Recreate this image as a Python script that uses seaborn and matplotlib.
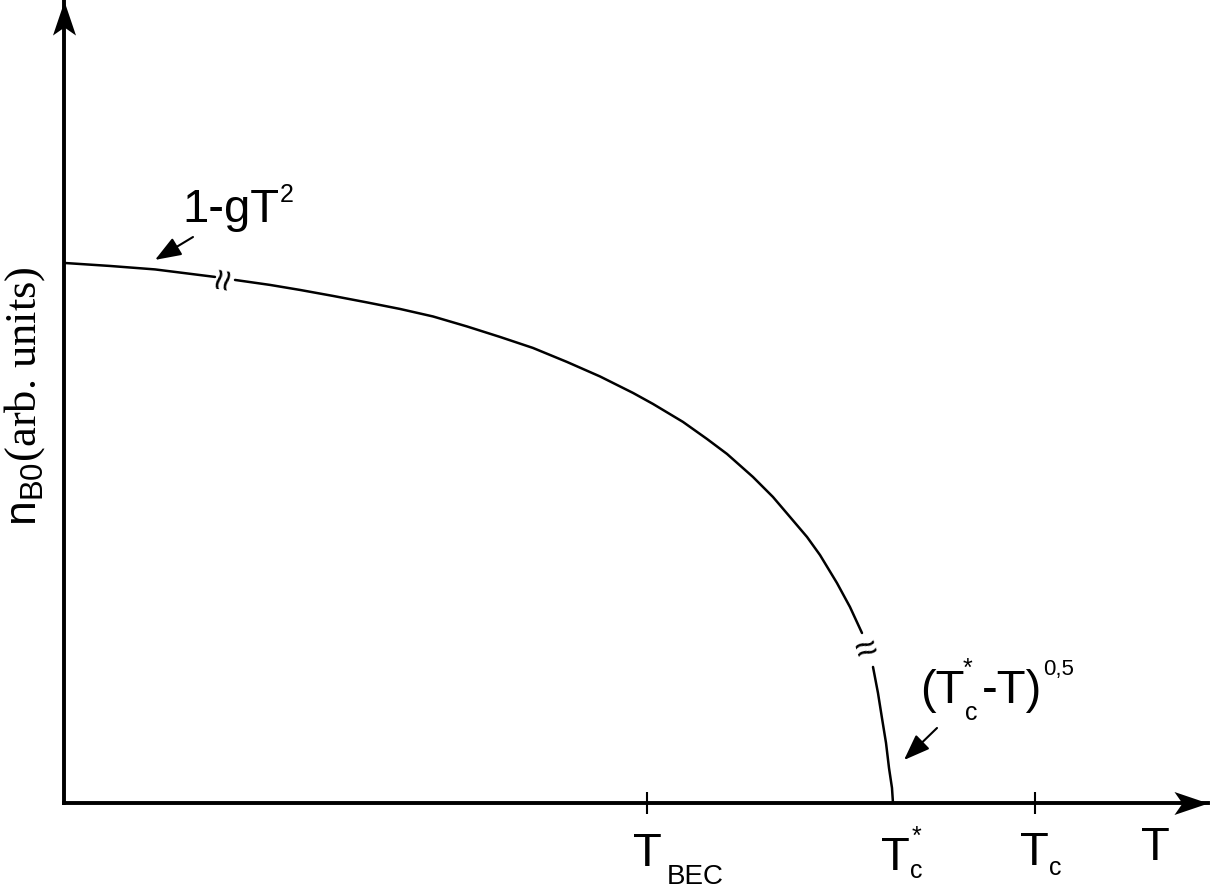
import numpy as np
import pandas as pd
import matplotlib
matplotlib.use("Agg")
import matplotlib.pyplot as plt
import seaborn as sns
from matplotlib.path import Path

# ---------------- data ----------------
T_vals = [0.0, 0.0555, 0.1098, 0.1821,
          0.2063, 0.2485, 0.2847, 0.3245, 0.3655, 0.4053, 0.4451, 0.4861,
          0.5259, 0.5657, 0.6067, 0.6466, 0.6864, 0.7105, 0.7467, 0.7756,
          0.7998, 0.8311, 0.8552, 0.8758, 0.8963, 0.9119, 0.9324, 0.9481,
          0.9626,
          0.9759, 0.9819, 0.9867, 0.9916, 0.9952, 0.9988, 1.0]
n_vals = [1.0, 0.9944, 0.9880, 0.9741,
          0.9685, 0.9593, 0.9500, 0.9389, 0.9269, 0.9148, 0.9009, 0.8824,
          0.8630, 0.8426, 0.8167, 0.7898, 0.7593, 0.7389, 0.7056, 0.6741,
          0.6463, 0.6037, 0.5667, 0.5296, 0.4926, 0.4593, 0.4074, 0.3630,
          0.3148,
          0.2519, 0.2037, 0.1574, 0.1111, 0.0648, 0.0278, 0.0]
segment = [0] * 4 + [1] * 25 + [2] * 7

break_T = [0.194, 0.969]
break_n = [0.971, 0.283]
break_rot = [80, 18]

tick_T = [0.703, 1.0, 1.171]
tick_main = ["T", "T", "T"]
tick_sub = ["BEC", "c", "c"]
tick_sup = ["", "*", ""]
axis_T_pos = 1.316

x_max = 1.380
y_max = 1.485

# ---------------- style ----------------
sns.set_theme(style="white")
plt.rcParams["font.family"] = ["Liberation Sans", "DejaVu Sans"]
plt.rcParams["text.color"] = "black"
plt.rcParams["mathtext.fontset"] = "custom"
plt.rcParams["mathtext.rm"] = "Liberation Sans"
plt.rcParams["mathtext.it"] = "Liberation Sans"
plt.rcParams["mathtext.bf"] = "Liberation Sans:bold"
plt.rcParams["mathtext.sf"] = "Liberation Sans"

W, H = 1216, 889
fig = plt.figure(figsize=(W / 100, H / 100), dpi=100)
ax = fig.add_axes([64 / W, 86 / H, 1144 / W, 802 / H])
ax.set_facecolor("white")

df = pd.DataFrame({"T": T_vals, "n": n_vals, "seg": segment})
sns.lineplot(data=df, x="T", y="n", units="seg", estimator=None, sort=False,
             color="black", lw=1.8, ax=ax, legend=False)

ax.set_xlim(0, x_max)
ax.set_ylim(0, y_max)
ax.set_xlabel("")
ax.set_ylabel("")
ax.set_yticks([])

for s in ["top", "right"]:
    ax.spines[s].set_visible(False)
for s in ["left", "bottom"]:
    ax.spines[s].set_color("black")
    ax.spines[s].set_linewidth(2.8)

# axis arrow heads (notched)
arrow_x = Path([(0, 0), (-34, 11.5), (-26, 0), (-34, -11.5), (0, 0)],
               [Path.MOVETO, Path.LINETO, Path.LINETO, Path.LINETO, Path.CLOSEPOLY])
arrow_y = Path([(0, 0), (11.5, -34), (0, -26), (-11.5, -34), (0, 0)],
               [Path.MOVETO, Path.LINETO, Path.LINETO, Path.LINETO, Path.CLOSEPOLY])
ax.plot([x_max], [0], marker=arrow_x, markersize=49, color="black",
        markeredgewidth=0, clip_on=False, zorder=5)
ax.plot([0], [y_max], marker=arrow_y, markersize=49, color="black",
        markeredgewidth=0, clip_on=False, zorder=5)

# ticks
ax.set_xticks(tick_T)
ax.set_xticklabels(["", "", ""])
ax.tick_params(axis="x", direction="inout", length=16, width=1.5,
               color="black", bottom=True)
ax.xaxis.get_major_ticks()[1].tick1line.set_visible(False)

PX = 0.72
xtr = ax.get_xaxis_transform()


def put(s, x, dx, dy, size, ha="left", va="baseline"):
    ax.annotate(s, xy=(x, 0), xycoords=xtr, xytext=(dx * PX, dy * PX),
                textcoords="offset points", fontsize=size, ha=ha, va=va,
                annotation_clip=False, color="black")


main_dx = [1, 2, 0]
main_dy = [-63, -67, -62]
sub_dx = [20, 17, 14]
sub_dy = [-81, -75, -72]
sub_size = [20, 18, 18]
for i, t in enumerate(tick_T):
    put(tick_main[i], t, main_dx[i], main_dy[i], 34, ha="center")
    put(tick_sub[i], t, sub_dx[i], sub_dy[i], sub_size[i])
    if tick_sup[i]:
        put(tick_sup[i], t, 19, -22, 18, va="top")

# axis label "T"
put("T", axis_T_pos, 0, -57, 34, ha="center")

# y label
ax.text(-0.0341, 0.5075, r"$\mathrm{n}_{\mathrm{B0}}$(arb. units)",
        transform=ax.transAxes, rotation=90, ha="center", va="center",
        fontsize=32, family="Liberation Serif", color="black")

# break marks
for bt, bn, br in zip(break_T, break_n, break_rot):
    ax.text(bt, bn, "\u2248", rotation=br, ha="center", va="center",
            fontsize=28, rotation_mode="anchor", color="black")

# annotations
ap = dict(arrowstyle="-|>,head_length=0.8,head_width=0.3", mutation_scale=20,
          lw=1.5, color="black", shrinkA=0, shrinkB=0)
ax.annotate("", xy=(0.1098, 1.0056), xytext=(0.1556, 1.048), arrowprops=ap,
            annotation_clip=False)
ax.text(0.1423, 1.0759, "1-gT", fontsize=34, ha="left", va="baseline")
ax.text(0.2600, 1.113, "2", fontsize=18, ha="left", va="baseline")

ax.annotate("", xy=(1.0133, 0.0796), xytext=(1.0531, 0.1389), arrowprops=ap,
            annotation_clip=False)
ax.text(1.0326, 0.1852, "(T", fontsize=34, ha="left", va="baseline")
ax.text(1.0845, 0.2704, "*", fontsize=18, ha="left", va="top")
ax.text(1.0869, 0.1537, "c", fontsize=18, ha="left", va="baseline")
ax.text(1.1074, 0.1852, "-T)", fontsize=34, ha="left", va="baseline")
ax.text(1.1810, 0.237, "0,5", fontsize=16, ha="left", va="baseline")

fig.savefig("out.png", dpi=100, facecolor="white")
